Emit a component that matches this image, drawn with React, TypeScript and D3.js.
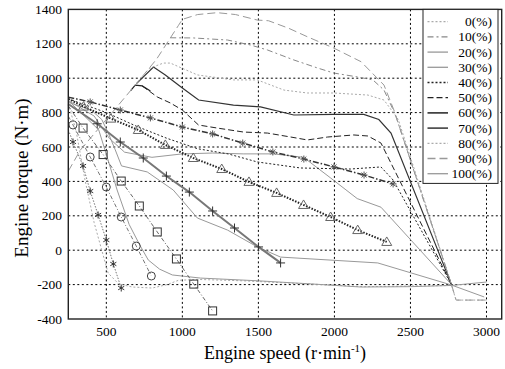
import React from 'react';
import * as d3 from 'd3';

const W = 505;
const H = 369;
const PL = 68.3, PR = 501.7, PT = 9.4, PB = 319;

const speedTicks = [500, 1000, 1500, 2000, 2500, 3000];
const torqueTicks = [-400, -200, 0, 200, 400, 600, 800, 1000, 1200, 1400];
const legendLabels = ['0(%)', '10(%)', '20(%)', '30(%)', '40(%)', '50(%)', '60(%)', '70(%)', '80(%)', '90(%)', '100(%)'];

type P = [number, number];
// throttle curves [speed r/min, torque N·m]
const thr0: P[] = [[250, 850], [300, 700], [360, 408], [420, 160], [470, 0], [512, -133], [580, -195], [670, -214], [802, -220], [900, -200], [974, -175], [1100, -170], [1400, -178], [1800, -195], [2200, -212], [2770, -205], [2800, -290], [3000, -290]];
const thr10: P[] = [[920, 1235], [1073, 1234], [1297, 1222], [1448, 1193], [1560, 1164], [1733, 1106], [1890, 1059], [1996, 1030], [2154, 1007], [2253, 990], [2326, 931], [2400, 790], [2770, -200]];
const thr20: P[] = [[250, 870], [450, 700], [520, 500], [571, 350], [650, 150], [720, 30], [776, -57], [850, -110], [934, -144], [1119, -162], [1500, -178], [1864, -197], [2173, -214], [2500, -212], [2770, -205], [3000, -185]];
const thr30: P[] = [[250, 870], [420, 780], [520, 650], [620, 570], [800, 540], [1000, 560], [1200, 565], [1400, 560], [1600, 560], [1797, 540], [1975, 420], [2150, 300], [2306, 250], [2770, -200]];
const thr40: P[] = [[250, 880], [500, 800], [700, 720], [900, 650], [1100, 590], [1300, 560], [1493, 513], [1777, 478], [2106, 472], [2306, 484], [2386, 408], [2770, -200]];
const thr50: P[] = [[736, 955], [835, 891], [921, 856], [1000, 815], [1106, 728], [1230, 710], [1402, 687], [1560, 681], [1713, 658], [1822, 641], [1955, 658], [2127, 670], [2220, 664], [2306, 623], [2770, -200]];
const thr60: P[] = [[660, 928], [690, 960], [736, 955], [790, 925]];
const thr70: P[] = [[700, 970], [810, 1065], [888, 1019], [1000, 943], [1107, 873], [1336, 844], [1514, 833], [1733, 786], [1996, 790], [2193, 790], [2292, 760], [2372, 681], [2770, -200]];
const thr80: P[] = [[780, 1056], [875, 1088], [921, 1088], [1099, 1019], [1336, 990], [1493, 990], [1668, 931], [1822, 914], [1996, 914], [2220, 902], [2326, 873], [2420, 760], [2770, -200]];
const thr90: P[] = [[250, 460], [330, 583], [500, 760], [690, 960], [830, 1110], [973, 1305], [1000, 1342], [1100, 1370], [1229, 1381], [1350, 1370], [1493, 1338], [1567, 1334], [1700, 1290], [1822, 1241], [1996, 1175], [2175, 1096], [2326, 960], [2391, 815], [2770, -200], [2800, -290], [3000, -290]];
const thr100: P[] = [[250, 860], [400, 815], [470, 760], [513, 681], [559, 583], [600, 490], [769, 455], [940, 350], [1099, 187], [1297, 117], [1493, 19], [1646, -40], [2285, -74], [2768, -202], [2985, -272]];

// marker lines
const starSpeed = [250, 394, 592, 790, 1000, 1199, 1397, 1595, 1799, 1997, 2195, 2386];
const starTorque = [890, 862, 815, 769, 716, 676, 623, 571, 530, 484, 437, 385];
const triSpeed = [250, 350, 530, 710, 888, 1072, 1259, 1438, 1620, 1797, 1975, 2153, 2344];
const triTorque = [880, 835, 765, 699, 612, 536, 472, 397, 333, 263, 193, 117, 48];
const plusSpeed = [250, 440, 592, 743, 895, 1046, 1199, 1343, 1501, 1646];
const plusTorque = [850, 735, 629, 536, 431, 338, 228, 129, 19, -74];
const sqSpeed = [250, 347, 479, 598, 717, 835, 961, 1075, 1199];
const sqTorque = [840, 710, 556, 402, 257, 106, -51, -197, -353];
const circSpeed = [250, 281, 394, 500, 598, 697, 796];
const circTorque = [780, 728, 542, 367, 193, 24, -150];
const astSpeed = [250, 281, 347, 394, 446, 500, 546, 598];
const astTorque = [700, 629, 490, 344, 205, 59, -80, -220];

const throttle = [thr0, thr10, thr20, thr30, thr40, thr50, thr60, thr70, thr80, thr90, thr100];
const thrStyle = [
  { c: '#aaa', d: '2,2', w: 1 },
  { c: '#888', d: '6,3,2,3', w: 1 },
  { c: '#999', d: '', w: 1 },
  { c: '#999', d: '', w: 1 },
  { c: '#222', d: '2,2', w: 1 },
  { c: '#222', d: '6,3', w: 1 },
  { c: '#222', d: '', w: 1.2 },
  { c: '#333', d: '', w: 1.2 },
  { c: '#aaa', d: '2,2', w: 1 },
  { c: '#999', d: '8,4', w: 1 },
  { c: '#999', d: '', w: 1 },
];

const FONT = '"Liberation Serif", "Times New Roman", serif';
const TS: React.CSSProperties = { fontFamily: FONT };

function zip(a: number[], b: number[]): P[] {
  return a.map((v, i) => [v, b[i]]);
}

export default function App() {
  const x = d3.scaleLinear().domain([250, 3100]).range([PL, PR]);
  const y = d3.scaleLinear().domain([-400, 1400]).range([PB, PT]);
  const line = d3.line<P>().x(d => x(d[0])).y(d => y(d[1]));

  const markerLines = [
    { pts: zip(starSpeed, starTorque), c: '#333', d: '6,2,1.5,2', w: 1.5, m: 'star' },
    { pts: zip(triSpeed, triTorque), c: '#222', d: '1.5,1.5', w: 2, m: 'tri' },
    { pts: zip(plusSpeed, plusTorque), c: '#777', d: '', w: 2, m: 'plus' },
    { pts: zip(sqSpeed, sqTorque), c: '#666', d: '4,2,1,2', w: 1, m: 'sq' },
    { pts: zip(circSpeed, circTorque), c: '#777', d: '4,2,1,2', w: 1, m: 'circ' },
    { pts: zip(astSpeed, astTorque), c: '#777', d: '1.5,1.5', w: 1, m: 'ast' },
  ];

  const marker = (m: string, cx: number, cy: number, k: string) => {
    if (m === 'tri') {
      return <path key={k} d={`M${cx},${cy - 5}L${cx + 5},${cy + 3.5}L${cx - 5},${cy + 3.5}Z`} fill="none" stroke="#666" strokeWidth={1} />;
    }
    if (m === 'sq') {
      return <rect key={k} x={cx - 4} y={cy - 4} width={8} height={8} fill="none" stroke="#333" strokeWidth={1} />;
    }
    if (m === 'circ') {
      return <circle key={k} cx={cx} cy={cy} r={4} fill="none" stroke="#444" strokeWidth={1} />;
    }
    if (m === 'plus') {
      return <path key={k} d={`M${cx - 4.5},${cy}H${cx + 4.5}M${cx},${cy - 4.5}V${cy + 4.5}`} stroke="#333" strokeWidth={1} />;
    }
    const n = m === 'star' ? 4 : 3;
    const r = 3.5;
    let d = '';
    for (let i = 0; i < n; i++) {
      const a = (Math.PI * i) / n + Math.PI / 2;
      d += `M${cx + r * Math.cos(a)},${cy + r * Math.sin(a)}L${cx - r * Math.cos(a)},${cy - r * Math.sin(a)}`;
    }
    return <path key={k} d={d} stroke={m === 'star' ? '#555' : '#333'} strokeWidth={1} />;
  };

  const legX = 423, legY = PT, legW = 75, legH = 174;

  return (
    <svg width={W} height={H} style={{ position: 'absolute', left: 0, top: 0, background: 'white', fontFamily: FONT }}>
      <rect x={0} y={0} width={W} height={H} fill="white" />
      {/* grid */}
      {speedTicks.map(t => (
        <line key={'gx' + t} x1={x(t)} x2={x(t)} y1={PT} y2={PB} stroke="#000" strokeWidth={1} strokeDasharray="2,2.5" />
      ))}
      {torqueTicks.filter(t => t > -400 && t < 1400).map(t => (
        <line key={'gy' + t} x1={PL} x2={PR} y1={y(t)} y2={y(t)} stroke="#000" strokeWidth={1} strokeDasharray="2,2.5" />
      ))}
      {/* throttle curves */}
      {throttle.map((s, i) => (
        <path key={'t' + i} d={line(s) || ''} fill="none" stroke={thrStyle[i].c} strokeWidth={thrStyle[i].w} strokeDasharray={thrStyle[i].d || undefined} />
      ))}
      {/* marker lines */}
      {markerLines.map((ml, i) => (
        <g key={'ml' + i}>
          <path d={line(ml.pts) || ''} fill="none" stroke={ml.c} strokeWidth={ml.w} strokeDasharray={ml.d || undefined} />
          {ml.pts.slice(1).map((p, j) => marker(ml.m, x(p[0]), y(p[1]), `m${i}-${j}`))}
        </g>
      ))}
      {/* frame */}
      <rect x={PL} y={PT} width={PR - PL} height={PB - PT} fill="none" stroke="#222" strokeWidth={1.4} />
      {/* tick labels */}
      {speedTicks.map(t => (
        <text key={'xl' + t} x={x(t)} y={336} textAnchor="middle" fontSize={13.5} style={TS}>{t}</text>
      ))}
      {torqueTicks.map(t => (
        <text key={'yl' + t} x={62} y={y(t) + 4.5} textAnchor="end" fontSize={13.5} style={TS}>{t}</text>
      ))}
      <text x={285} y={359} textAnchor="middle" fontSize={18} style={TS}>
        Engine speed (r·min<tspan dy={-7} fontSize={11}>-1</tspan><tspan dy={7}>)</tspan>
      </text>
      <text transform={`translate(28,${178}) rotate(-90)`} textAnchor="middle" fontSize={19} style={TS}>Engine torque (N·m)</text>
      {/* legend */}
      <rect x={legX} y={legY} width={legW} height={legH} fill="white" stroke="#222" strokeWidth={1} />
      {legendLabels.map((lab, i) => {
        const yy = 21.7 + i * 15.2;
        return (
          <g key={'lg' + i}>
            <line x1={427.5} x2={448} y1={yy} y2={yy} stroke={thrStyle[i].c} strokeWidth={thrStyle[i].w + 0.3} strokeDasharray={thrStyle[i].d || undefined} />
            <text x={492} y={yy + 4.5} textAnchor="end" fontSize={13.5} style={TS}>{lab}</text>
          </g>
        );
      })}
    </svg>
  );
}
